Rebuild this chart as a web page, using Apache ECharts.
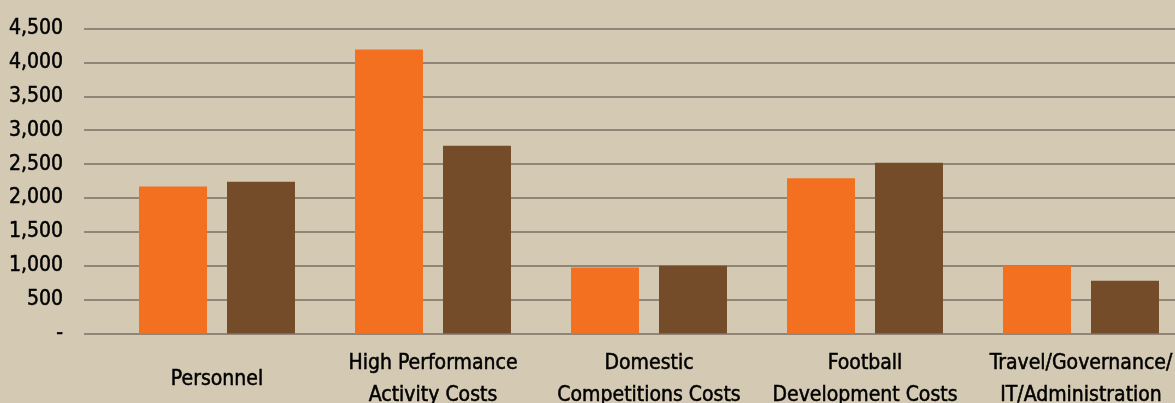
<!DOCTYPE html>
<html>
<head>
<meta charset="utf-8">
<script src="https://cdn.jsdelivr.net/npm/echarts@6/dist/echarts.min.js"></script>
<style>
  html, body { margin: 0; padding: 0; background: #d4cab4; }
  #chart { width: 1175px; height: 403px; }
</style>
</head>
<body>
<div id="chart"></div>
<script>
// values
const categories = [
    'Personnel',
    'High Performance\nActivity Costs',
    'Domestic\nCompetitions Costs',
    'Football\nDevelopment Costs',
    'Travel/Governance/\nIT/Administration'
];
const seriesA = [2170, 4190, 975, 2290, 1000];
const seriesB = [2240, 2770, 1000, 2520, 780];
const yTicks = [0, 500, 1000, 1500, 2000, 2500, 3000, 3500, 4000, 4500];

const fontName = '"DejaVu Sans Condensed", "Liberation Sans Narrow", sans-serif';
const chart = echarts.init(document.getElementById('chart'));

const options = {
    backgroundColor: '#d4cab4',
    animation: false,
    // grid 0 carries the value axis and gridlines, grid 1 carries the bars
    grid: [
        { left: 84, right: 0, top: 28.5, bottom: 69.5, outerBoundsMode: 'none', containLabel: false },
        { left: 109, right: -14, top: 28.5, bottom: 69.5, outerBoundsMode: 'none', containLabel: false }
    ],
    xAxis: [
        { gridIndex: 0, type: 'value', show: false },
        {
            gridIndex: 1,
            type: 'category',
            data: categories,
            axisLine: { show: false },
            axisTick: { show: false },
            axisLabel: {
                interval: 0,
                margin: 46,
                verticalAlign: 'middle',
                lineHeight: 32,
                fontSize: 21,
                fontFamily: fontName,
                color: '#000',
                textBorderColor: '#000',
                textBorderWidth: 0.5
            }
        }
    ],
    yAxis: [
        {
            gridIndex: 0,
            type: 'value',
            min: yTicks[0],
            max: yTicks[yTicks.length - 1],
            interval: 500,
            axisLine: { show: false },
            axisTick: { show: false },
            splitLine: { lineStyle: { color: '#7a6e62', width: 1.5 } },
            axisLabel: {
                margin: 21,
                fontSize: 21,
                fontFamily: fontName,
                color: '#000',
                textBorderColor: '#000',
                textBorderWidth: 0.5,
                formatter: function (v) {
                    return v === 0 ? '-' : v.toLocaleString('en-US');
                }
            }
        },
        {
            gridIndex: 1,
            type: 'value',
            min: yTicks[0],
            max: yTicks[yTicks.length - 1],
            interval: 500,
            show: false,
            splitLine: { show: false }
        }
    ],
    series: [
        {
            type: 'bar',
            xAxisIndex: 1,
            yAxisIndex: 1,
            data: seriesA,
            barWidth: 68,
            barGap: '29.4%',
            itemStyle: { color: '#f37021' }
        },
        {
            type: 'bar',
            xAxisIndex: 1,
            yAxisIndex: 1,
            data: seriesB,
            barWidth: 68,
            barGap: '29.4%',
            itemStyle: { color: '#744c2a' }
        }
    ]
};
chart.setOption(options);
</script>
</body>
</html>
